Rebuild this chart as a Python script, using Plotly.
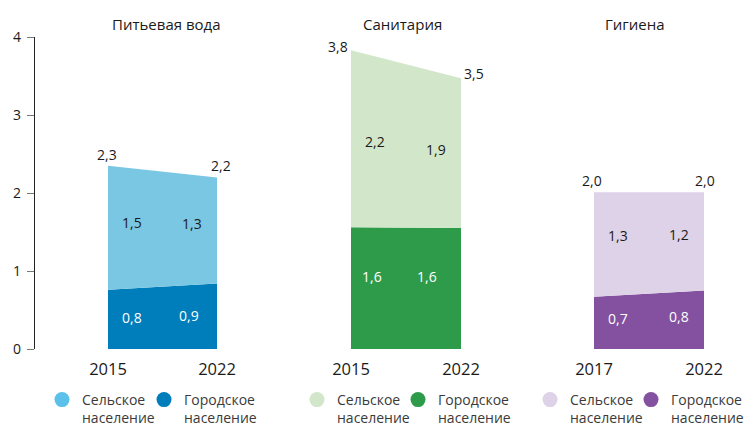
import plotly.graph_objects as go

# ---- data ----
panel_titles = ["Питьевая вода", "Санитария", "Гигиена"]
years_water = ["2015", "2022"]
years_sanit = ["2015", "2022"]
years_hyg = ["2017", "2022"]

urban_water = [0.76, 0.84]
rural_water = [1.59, 1.36]
urban_sanit = [1.56, 1.55]
rural_sanit = [2.27, 1.92]
urban_hyg = [0.67, 0.75]
rural_hyg = [1.34, 1.26]

urban_water_lbl = ["0,8", "0,9"]
rural_water_lbl = ["1,5", "1,3"]
total_water_lbl = ["2,3", "2,2"]
urban_sanit_lbl = ["1,6", "1,6"]
rural_sanit_lbl = ["2,2", "1,9"]
total_sanit_lbl = ["3,8", "3,5"]
urban_hyg_lbl = ["0,7", "0,8"]
rural_hyg_lbl = ["1,3", "1,2"]
total_hyg_lbl = ["2,0", "2,0"]

series_names = ["Сельское<br>население", "Городское<br>население"]
y_ticks = [0, 1, 2, 3, 4]

# ---- layout constants ----
W, H = 745, 426
L, R, T, B = 34, 0, 37, 77
PW = W - L - R
panel_px = [(108, 217), (351, 461), (594, 704)]
light_cols = ["#7AC7E4", "#D2E6CA", "#DDD2E7"]
dark_cols = ["#007DBB", "#2E9B4A", "#8351A0"]
legend_light = ["#5CC1EA", "#D2E6CA", "#DDD2E7"]
FONT = "Open Sans"
TXT = "#1a1a1a"

panels = [
    (years_water, urban_water, rural_water, urban_water_lbl, rural_water_lbl, total_water_lbl),
    (years_sanit, urban_sanit, rural_sanit, urban_sanit_lbl, rural_sanit_lbl, total_sanit_lbl),
    (years_hyg, urban_hyg, rural_hyg, urban_hyg_lbl, rural_hyg_lbl, total_hyg_lbl),
]

fig = go.Figure()
annotations = []
layout_axes = {}
xpos = [0, 1]
lbl_x = [0.22, 0.77]
# label nudges (pixels) per panel: rural yshift, urban yshift, urban xshifts
rural_dy = [6, 0, 8]
urban_dy = [1, 12, 4]
urban_dx = [[0, -3], [-3, -9], [0, 0]]
# total label placement per panel: (xanchor, yanchor, xshift, yshift) for left/right point
total_place = [
    [("center", "bottom", -1, 0), ("center", "bottom", 4, 0)],
    [("right", "middle", -1, 4), ("left", "middle", 1, 5)],
    [("center", "bottom", -2, 0), ("center", "bottom", 1, 0)],
]
title_shift = [4, -4, -14]
legend_left = [[42, 144], [297, 398], [530, 631]]

leg_idx = 0
for i, (yrs, urb, rur, ul, rl, tl) in enumerate(panels):
    n = i + 1
    xa = "x" if n == 1 else f"x{n}"
    ya = "y" if n == 1 else f"y{n}"
    sg = f"g{n}"
    fig.add_trace(go.Scatter(x=xpos, y=urb, stackgroup=sg, mode="none",
                             fillcolor=dark_cols[i], xaxis=xa, yaxis=ya,
                             showlegend=False, hoverinfo="skip"))
    fig.add_trace(go.Scatter(x=xpos, y=rur, stackgroup=sg, mode="none",
                             fillcolor=light_cols[i], xaxis=xa, yaxis=ya,
                             showlegend=False, hoverinfo="skip"))
    for j, (name, col) in enumerate(zip(series_names, [legend_light[i], dark_cols[i]])):
        leg_idx += 1
        leg = "legend" if leg_idx == 1 else f"legend{leg_idx}"
        fig.add_trace(go.Scatter(x=[None], y=[None], mode="markers", name=name,
                                 marker=dict(size=15, color=col), xaxis=xa, yaxis=ya,
                                 legend=leg))
        layout_axes[leg] = dict(orientation="h", xref="container", yref="container",
                                x=legend_left[i][j] / W, y=1 - 384 / H,
                                xanchor="left", yanchor="top", valign="top",
                                font=dict(family=FONT, size=14, color="#3a3a3a"),
                                bgcolor="rgba(0,0,0,0)", itemclick=False, itemdoubleclick=False)
    x0, x1 = panel_px[i]
    dom = [(x0 - L) / PW, (x1 - L) / PW]
    layout_axes["xaxis" if n == 1 else f"xaxis{n}"] = dict(
        domain=dom, range=[0, 1], tickvals=xpos, ticktext=yrs,
        showgrid=False, zeroline=False, showline=False, ticks="outside",
        ticklen=5, tickcolor="rgba(0,0,0,0)",
        tickfont=dict(family=FONT, size=16.5, color=TXT), anchor=ya, fixedrange=True)
    if n == 1:
        layout_axes["yaxis"] = dict(range=[0, 4], tickvals=y_ticks, anchor="free", position=0,
                                    showgrid=False, zeroline=False, showline=True,
                                    linecolor="#222", linewidth=1.2, ticks="outside",
                                    ticklen=7, tickcolor="#777", ticklabelstandoff=3,
                                    tickfont=dict(family=FONT, size=14, color=TXT))
    else:
        layout_axes[f"yaxis{n}"] = dict(range=[0, 4], visible=False, anchor=xa)

    for k in range(2):
        lx = lbl_x[k]
        u_at = urb[0] + (urb[1] - urb[0]) * lx
        t_at = (urb[0] + rur[0]) + ((urb[1] + rur[1]) - (urb[0] + rur[0])) * lx
        annotations.append(dict(x=lx, y=u_at / 2, xref=xa, yref=ya, text=ul[k],
                                showarrow=False, yshift=urban_dy[i], xshift=urban_dx[i][k],
                                font=dict(family=FONT, size=14, color="white")))
        annotations.append(dict(x=lx, y=(u_at + t_at) / 2, xref=xa, yref=ya, text=rl[k],
                                showarrow=False, yshift=rural_dy[i],
                                font=dict(family=FONT, size=14, color=TXT)))
        xan, yan, xs, ys = total_place[i][k]
        annotations.append(dict(x=xpos[k], y=urb[k] + rur[k], xref=xa, yref=ya, text=tl[k],
                                showarrow=False, xanchor=xan, yanchor=yan, xshift=xs, yshift=ys,
                                font=dict(family=FONT, size=14, color=TXT)))
    annotations.append(dict(x=0.5, y=1, xref=f"{xa} domain", yref="paper", text=panel_titles[i],
                            showarrow=False, yanchor="middle", yshift=13, xshift=title_shift[i],
                            font=dict(family=FONT, size=15, color=TXT)))

fig.update_layout(
    width=W, height=H, margin=dict(l=L, r=R, t=T, b=B, autoexpand=False),
    paper_bgcolor="white", plot_bgcolor="white",
    annotations=annotations, **layout_axes,
)

fig.write_html("out.html", config={"displayModeBar": False},
               post_script="document.body.style.margin='0';document.body.style.overflow='hidden';")
